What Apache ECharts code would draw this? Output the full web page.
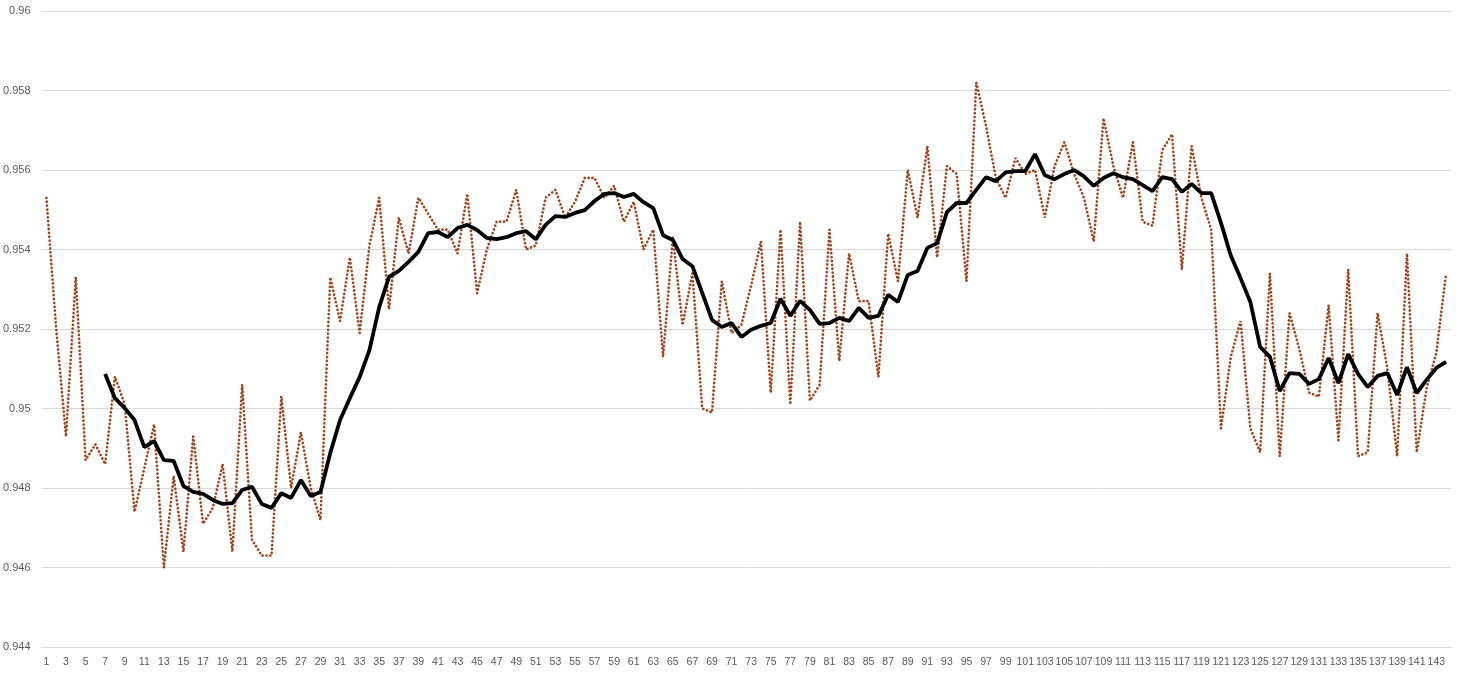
<!DOCTYPE html>
<html>
<head>
<meta charset="utf-8">
<script src="https://cdn.jsdelivr.net/npm/echarts@6/dist/echarts.min.js"></script>
<style>
  html, body { margin: 0; padding: 0; background: #fff; }
  #main { width: 1462px; height: 675px; }
</style>
</head>
<body>
<div id="main"></div>
<script>
// x categories 1..144
var categories = [];
for (var i = 1; i <= 144; i++) categories.push(String(i));

// raw values (dotted brown line)
var rawValues = [
  0.9553, 0.9520, 0.9493, 0.9533, 0.9487, 0.9491, 0.9486, 0.9508, 0.9501, 0.9474,
  0.9485, 0.9496, 0.9460, 0.9483, 0.9464, 0.9493, 0.9471, 0.9475, 0.9486, 0.9464,
  0.9506, 0.9467, 0.9463, 0.9463, 0.9503, 0.9480, 0.9494, 0.9480, 0.9472, 0.9533,
  0.9522, 0.9538, 0.9519, 0.9541, 0.9553, 0.9525, 0.9548, 0.9539, 0.9553, 0.9549,
  0.9545, 0.9545, 0.9539, 0.9554, 0.9529, 0.9540, 0.9547, 0.9547, 0.9555, 0.9540,
  0.9541, 0.9553, 0.9555, 0.9548, 0.9552, 0.9558, 0.9558, 0.9553, 0.9556, 0.9547,
  0.9552, 0.9540, 0.9545, 0.9513, 0.9543, 0.9521, 0.9534, 0.9500, 0.9499, 0.9532,
  0.9519, 0.9521, 0.9531, 0.9542, 0.9504, 0.9545, 0.9501, 0.9547, 0.9502, 0.9506,
  0.9545, 0.9512, 0.9539, 0.9527, 0.9527, 0.9508, 0.9544, 0.9532, 0.9560, 0.9548,
  0.9566, 0.9538, 0.9561, 0.9559, 0.9532, 0.9582, 0.9571, 0.9558, 0.9553, 0.9563,
  0.9559, 0.9560, 0.9548, 0.9561, 0.9567, 0.9559, 0.9553, 0.9542, 0.9573, 0.9561,
  0.9553, 0.9567, 0.9547, 0.9546, 0.9565, 0.9569, 0.9535, 0.9566, 0.9553, 0.9545,
  0.9495, 0.9513, 0.9522, 0.9495, 0.9489, 0.9534, 0.9488, 0.9524, 0.9515, 0.9504,
  0.9503, 0.9526, 0.9492, 0.9535, 0.9488, 0.9489, 0.9524, 0.9510, 0.9488, 0.9539,
  0.9489, 0.9505, 0.9514, 0.9534
];

// smoothed values (black line), starts at category 7
var avgValues = [
  null, null, null, null, null, null,
  0.95087, 0.95026, 0.95001, 0.94971,
  0.94903, 0.94918, 0.94870, 0.94868, 0.94805, 0.94790, 0.94785, 0.94770, 0.94760, 0.94762,
  0.94795, 0.94803, 0.94760, 0.94750, 0.94787, 0.94775, 0.94820, 0.94780, 0.94790, 0.94888,
  0.94971, 0.95026, 0.95079, 0.95147, 0.95255, 0.95331, 0.95346, 0.95369, 0.95394, 0.95441,
  0.95444, 0.95431, 0.95454, 0.95462, 0.95449, 0.95429, 0.95426, 0.95431, 0.95441, 0.95446,
  0.95426, 0.95462, 0.95484, 0.95482, 0.95492, 0.95499, 0.95522, 0.95540, 0.95542, 0.95532,
  0.95540, 0.95519, 0.95504, 0.95436, 0.95424, 0.95376, 0.95358, 0.95291, 0.95223, 0.95205,
  0.95215, 0.95180, 0.95198, 0.95208, 0.95215, 0.95276, 0.95233, 0.95271, 0.95248, 0.95213,
  0.95215, 0.95228, 0.95220, 0.95253, 0.95228, 0.95233, 0.95286, 0.95268, 0.95336, 0.95346,
  0.95404, 0.95416, 0.95494, 0.95517, 0.95517, 0.95550, 0.95582, 0.95572, 0.95594, 0.95597,
  0.95597, 0.95640, 0.95587, 0.95577, 0.95590, 0.95600, 0.95584, 0.95560, 0.95580, 0.95592,
  0.95582, 0.95577, 0.95562, 0.95547, 0.95582, 0.95577, 0.95545, 0.95565, 0.95542, 0.95542,
  0.95467, 0.95385, 0.95328, 0.95268, 0.95155, 0.95130, 0.95044, 0.95089, 0.95087, 0.95062,
  0.95074, 0.95127, 0.95064, 0.95137, 0.95087, 0.95054, 0.95082, 0.95089, 0.95034, 0.95104,
  0.95039, 0.95072, 0.95102, 0.95117
];

var yMin = 0.944, yMax = 0.96, yStep = 0.002;

var chart = echarts.init(document.getElementById('main'));
var option = {
  animation: false,
  backgroundColor: '#fff',
  textStyle: { fontFamily: 'Liberation Sans, Arial, sans-serif' },
  grid: { left: 41, right: 11, top: 11, bottom: 28, containLabel: false },
  xAxis: {
    type: 'category',
    data: categories,
    boundaryGap: true,
    axisLine: { show: true, lineStyle: { color: '#d9d9d9', width: 1 } },
    axisTick: { show: false },
    axisLabel: { interval: 1, color: '#595959', fontSize: 10.5, margin: 10 },
    splitLine: { show: false }
  },
  yAxis: {
    type: 'value',
    min: yMin,
    max: yMax,
    interval: yStep,
    axisLine: { show: false },
    axisTick: { show: false },
    axisLabel: { color: '#595959', fontSize: 11, margin: 11 },
    splitLine: { lineStyle: { color: '#d9d9d9', width: 1 } }
  },
  series: [
    {
      name: 'raw',
      type: 'line',
      data: rawValues,
      symbol: 'none',
      smooth: false,
      lineStyle: { color: '#a0461c', width: 2.7, type: [0.1, 3.8], cap: 'round' },
      z: 2
    },
    {
      name: 'average',
      type: 'line',
      data: avgValues,
      symbol: 'none',
      smooth: false,
      connectNulls: false,
      lineStyle: { color: '#000', width: 3.8 },
      z: 3
    }
  ]
};
chart.setOption(option);
</script>
</body>
</html>
